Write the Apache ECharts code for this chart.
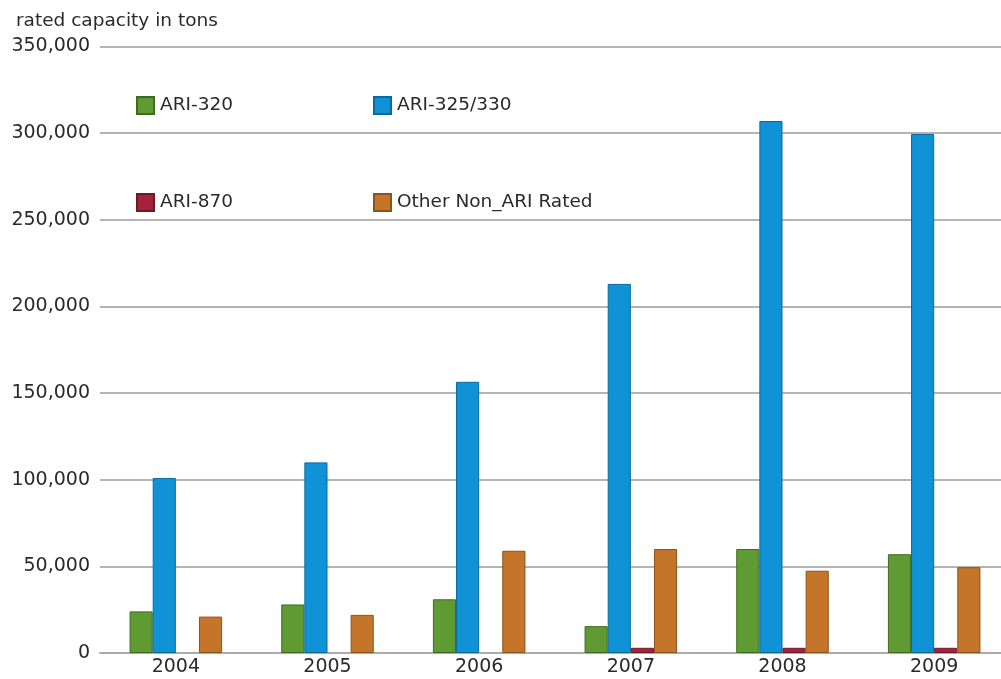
<!DOCTYPE html>
<html>
<head>
<meta charset="utf-8">
<script src="https://cdn.jsdelivr.net/npm/echarts@6/dist/echarts.min.js"></script>
<style>
  html, body { margin: 0; padding: 0; background: #fff; }
  #chart { width: 1001px; height: 679px; }
</style>
</head>
<body>
<div id="chart"></div>
<script>
// Rated capacity shipped per year, by rating standard (tons)
const years = ['2004', '2005', '2006', '2007', '2008', '2009'];
const ari320 = [24000, 28000, 31000, 15500, 60000, 57000];
const ari325 = [101000, 110000, 156500, 213000, 307000, 299500];
const ari870 = [0, 0, 0, 3000, 3000, 3000];
const otherNonAri = [21000, 22000, 59000, 60000, 47500, 49500];
const yTicks = [0, 50000, 100000, 150000, 200000, 250000, 300000, 350000];

const font = 'DejaVu Sans';
const textColor = '#2a2a2a';

const seriesDefs = [
  { name: 'ARI-320', data: ari320, color: '#5f9a33', border: '#3f6a22' },
  { name: 'ARI-325/330', data: ari325, color: '#0f93d6', border: '#0a6a9c' },
  { name: 'ARI-870', data: ari870, color: '#a3243a', border: '#701828' },
  { name: 'Other Non_ARI Rated', data: otherNonAri, color: '#c47529', border: '#8a521c' }
];

// legend laid out as a 2x2 block inside the plot
const legendPos = [
  { left: 136, top: 96 },
  { left: 373, top: 96 },
  { left: 136, top: 193 },
  { left: 373, top: 193 }
];

const chart = echarts.init(document.getElementById('chart'));
chart.setOption({
  animation: false,
  backgroundColor: '#fff',
  textStyle: { fontFamily: font },
  // plot runs slightly past the right edge of the canvas
  grid: { left: 100, width: 910, top: 46.5, bottom: 26, containLabel: false, outerBoundsMode: 'none' },
  legend: seriesDefs.map((s, i) => ({
    data: [s.name],
    left: legendPos[i].left,
    top: legendPos[i].top,
    padding: 0,
    itemWidth: 17,
    itemHeight: 17,
    itemGap: 0,
    icon: 'rect',
    selectedMode: false,
    textStyle: { fontFamily: font, fontSize: 18.5, color: textColor, padding: [0, 0, 0, 1] }
  })),
  xAxis: {
    type: 'category',
    data: years,
    axisTick: { show: false },
    axisLine: { show: true, lineStyle: { color: '#aaa', width: 2 } },
    axisLabel: { fontFamily: font, fontSize: 19, color: textColor, margin: 5 }
  },
  yAxis: {
    type: 'value',
    name: 'rated capacity in tons',
    nameLocation: 'end',
    nameGap: 16,
    nameTextStyle: { fontFamily: font, fontSize: 18.5, color: textColor, align: 'left', padding: [0, 0, 0, -84] },
    min: yTicks[0],
    max: yTicks[yTicks.length - 1],
    interval: yTicks[1] - yTicks[0],
    axisLine: { show: false },
    axisTick: { show: false },
    axisLabel: {
      fontFamily: font, fontSize: 19, color: textColor, margin: 10,
      formatter: v => v.toLocaleString('en-US')
    },
    splitLine: { lineStyle: { color: '#b4b4b4', width: 2 } }
  },
  series: seriesDefs.map(s => ({
    name: s.name,
    type: 'bar',
    // zero-valued bars get no outline so nothing shows on the baseline
    data: s.data.map(v => v === 0 ? { value: v, itemStyle: { borderWidth: 0 } } : v),
    barGap: '0%',
    barCategoryGap: '39%',
    itemStyle: { color: s.color, borderColor: s.border, borderWidth: 1 }
  }))
});
</script>
</body>
</html>
